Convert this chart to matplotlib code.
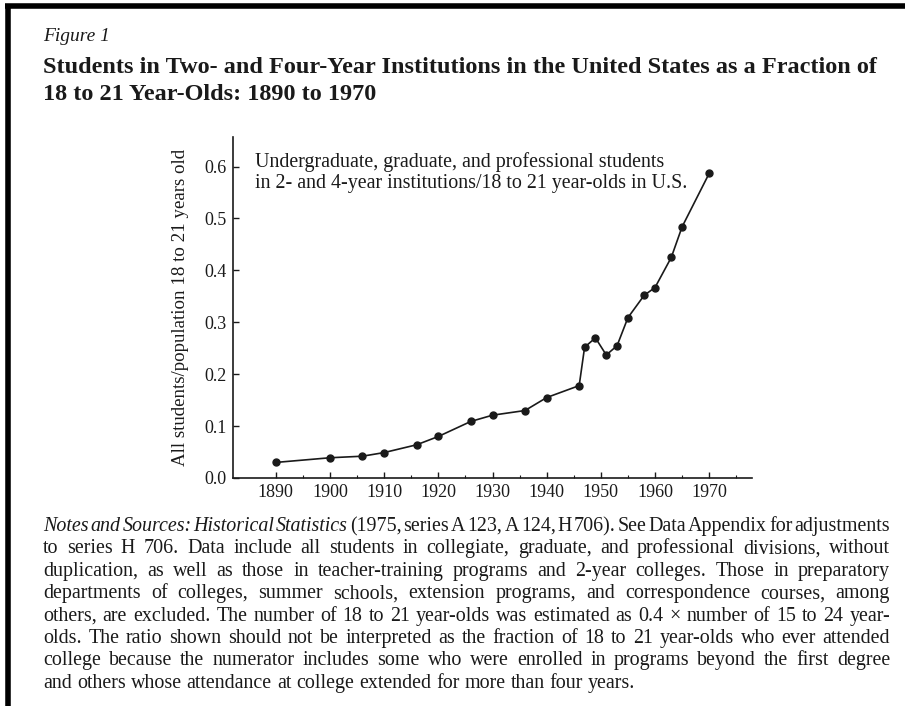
import matplotlib
matplotlib.use("Agg")
import matplotlib.pyplot as plt
from matplotlib.lines import Line2D
from matplotlib.transforms import IdentityTransform

# ---- data ----
years = [1890, 1900, 1906, 1910, 1916, 1920, 1926, 1930, 1936, 1940,
         1946, 1947, 1949, 1951, 1953, 1955, 1958, 1960, 1963, 1965, 1970]
ratio = [0.030, 0.039, 0.042, 0.049, 0.064, 0.080, 0.109, 0.121, 0.130, 0.155,
         0.178, 0.252, 0.270, 0.237, 0.255, 0.309, 0.352, 0.367, 0.425, 0.484, 0.587]
x_ticks = [1890, 1900, 1910, 1920, 1930, 1940, 1950, 1960, 1970]
y_ticks = [0.0, 0.1, 0.2, 0.3, 0.4, 0.5, 0.6]
y_tick_labels = ["0.0", "0.1", "0.2", "0.3", "0.4", "0.5", "0.6"]

fig_label = "Figure 1"
title_lines = ["Students in Two- and Four-Year Institutions in the United States as a Fraction of",
               "18 to 21 Year-Olds: 1890 to 1970"]
ylabel = "All students/population 18 to 21 years old"
annotation_lines = ["Undergraduate, graduate, and professional students",
                    "in 2- and 4-year institutions/18 to 21 year-olds in U.S."]
notes = [
    [("Notes and Sources: Historical Statistics", "italic"),
     ("(1975, series A 123, A 124, H 706). See Data Appendix for adjustments", "normal")],
    [("to series H 706. Data include all students in collegiate, graduate, and professional divisions, without", "normal")],
    [("duplication, as well as those in teacher-training programs and 2-year colleges. Those in preparatory", "normal")],
    [("departments of colleges, summer schools, extension programs, and correspondence courses, among", "normal")],
    [("others, are excluded. The number of 18 to 21 year-olds was estimated as 0.4 \u00d7 number of 15 to 24 year-", "normal")],
    [("olds. The ratio shown should not be interpreted as the fraction of 18 to 21 year-olds who ever attended", "normal")],
    [("college because the numerator includes some who were enrolled in programs beyond the first degree", "normal")],
    [("and others whose attendance at college extended for more than four years.", "normal")],
]

W, H = 905, 706
SERIF = ["Liberation Serif", "DejaVu Serif"]
INK = "#1a1a1a"
plt.rcParams["font.family"] = SERIF

fig = plt.figure(figsize=(W / 100, H / 100), dpi=100)
fig.patch.set_facecolor("white")
renderer = fig.canvas.get_renderer()
px = IdentityTransform()

def Y(y):  # pixel from top -> display coordinate
    return H - y

# ---- frame lines ----
fig.add_artist(Line2D([5, W], [Y(6), Y(6)], transform=px, color="black", lw=4.0,
                      solid_capstyle="butt"))
fig.add_artist(Line2D([8, 8], [Y(4), Y(H)], transform=px, color="black", lw=4.0,
                      solid_capstyle="butt"))

# ---- headings ----
LEFT = 43
fig.text(LEFT, Y(41), fig_label, transform=px, fontsize=14, fontstyle="italic",
         color=INK, va="baseline", ha="left")
for i, line in enumerate(title_lines):
    fig.text(LEFT, Y(73 + 27 * i), line, transform=px, fontsize=17.5, fontweight="bold",
             color=INK, va="baseline", ha="left")

# ---- axes ----
ax_l, ax_r, ax_t, ax_b = 233, 752, 137, 478
ax = fig.add_axes([ax_l / W, (H - ax_b) / H, (ax_r - ax_l) / W, (ax_b - ax_t) / H])
ax.plot(years, ratio, color=INK, lw=1.2, marker="o", markersize=5,
        markerfacecolor=INK, markeredgecolor=INK)
ax.set_xlim(1882.1, 1977.9)
ax.set_ylim(0.0, 0.657)
ax.set_xticks(x_ticks)
ax.set_xticklabels([str(v) for v in x_ticks])
ax.set_xticks([v + 5 for v in x_ticks], minor=True)
ax.set_yticks(y_ticks)
ax.set_yticklabels(y_tick_labels)
for s in ["top", "right"]:
    ax.spines[s].set_visible(False)
for s in ["left", "bottom"]:
    ax.spines[s].set_color(INK)
    ax.spines[s].set_linewidth(1.2)
ax.tick_params(axis="both", which="major", direction="in", length=4, width=1,
               labelsize=13, colors=INK)
ax.tick_params(axis="y", which="major", pad=4.5)
ax.tick_params(axis="x", which="major", pad=4)
ax.tick_params(axis="x", which="minor", direction="in", length=2, width=0.8, colors=INK)
ax.set_ylabel(ylabel, fontsize=13.6, color=INK, labelpad=11)
for i, line in enumerate(annotation_lines):
    fig.text(255, Y(167 + 21 * i), line, transform=px, fontsize=14.4, color=INK,
             va="baseline", ha="left")

# ---- justified notes ----
def justify(segments, y, x0, x1, size, last=False):
    words = []
    for text, style in segments:
        for w in text.split(" "):
            words.append((w, style))
    arts, widths = [], []
    for w, st in words:
        t = fig.text(0, Y(y), w, transform=px, fontsize=size, fontstyle=st,
                     color=INK, va="baseline", ha="left")
        arts.append(t)
        widths.append(t.get_window_extent(renderer).width)
    p1 = fig.text(0, 0, "a a", fontsize=size, transform=px)
    p2 = fig.text(0, 0, "aa", fontsize=size, transform=px)
    space = p1.get_window_extent(renderer).width - p2.get_window_extent(renderer).width
    p1.remove(); p2.remove()
    if last or len(words) < 2:
        gap = space
    else:
        gap = (x1 - x0 - sum(widths)) / (len(words) - 1)
    x = x0
    for t, wdt in zip(arts, widths):
        t.set_x(x)
        x += wdt + gap

for i, segs in enumerate(notes):
    justify(segs, 531 + 22.4 * i, LEFT, 890, 14.4, last=(i == len(notes) - 1))

fig.savefig("out.png", dpi=100, facecolor="white")
